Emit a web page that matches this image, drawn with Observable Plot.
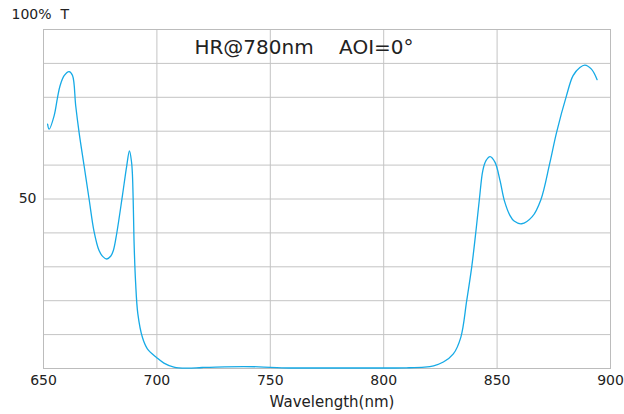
<!DOCTYPE html>
<html>
<head>
<meta charset="utf-8">
<script src="https://cdn.jsdelivr.net/npm/d3@7"></script>
<script src="https://cdn.jsdelivr.net/npm/@observablehq/plot@0.6"></script>
<style>
  html, body { margin: 0; padding: 0; background: #fff; }
</style>
</head>
<body>
<div id="chart"></div>
<script>
// Wavelength (nm) and transmission (%)
const wavelength = [651.8, 652.5, 654.7, 656.2, 657.3, 659.1, 661.3, 662.8, 664.2, 665.7,
  667.9, 670.1, 672.3, 674.5, 676.2, 677.9, 679.6, 680.8, 682.3, 684.8, 686.7, 687.9,
  688.8, 689.2, 689.6, 689.9, 690.6, 691.6, 693.6, 695.8, 699.9, 703.1,
  707.5, 713.4, 720, 730, 745, 755, 770, 790, 810, 818,
  822, 826.3, 830.7, 834.0, 836.6, 838.8, 840.7, 842.2, 843.7, 845.1,
  846.9, 849.1, 851.3, 853.3, 855.7, 857.5, 860.8, 865.5, 869.3, 873.2,
  876.2, 880.6, 883.5, 886.5, 888.7, 891.6, 894.1];
const transmission = [72.1, 70.6, 74.6, 80.0, 83.4, 86.4, 87.6, 86.4, 77.5, 69.6,
  59.8, 50.0, 40.4, 34.8, 33.0, 32.3, 33.1, 34.8, 39.9, 51.0, 59.8, 64.2,
  61.0, 57.4, 48.0, 38.0, 25.5, 16.1, 9.2, 5.8, 3.2, 1.6,
  0.4, 0.1, 0.3, 0.5, 0.5, 0.2, 0.15, 0.15, 0.2, 0.4,
  0.8, 1.9, 4.3, 9.2, 20.0, 29.9, 40.7, 50.0, 58.4, 61.3,
  62.5, 60.8, 55.4, 49.3, 45.1, 43.5, 42.7, 44.8, 49.8, 60.5,
  69.6, 80.5, 86.4, 88.8, 89.5, 88.3, 85.2];

const xTicks = [650, 700, 750, 800, 850, 900];
const xGrid = [700, 750, 800, 850];
const yTicks = [50];
const yGrid = [10, 20, 30, 40, 50, 60, 70, 80, 90];
const titleText = ["HR@780nm\u00a0\u00a0\u00a0 AOI=0°"];
const yUnitText = ["100%\u00a0 T"];
const xLabelText = ["Wavelength(nm)"];

const data = wavelength.map((w, i) => ({w, t: transmission[i]}));

const gridColor = "#c4c4c4";
const textColor = "#222";

const chart = Plot.plot({
  width: 624,
  height: 414,
  marginLeft: 43,
  marginRight: 14,
  marginTop: 29,
  marginBottom: 46,
  style: {fontFamily: "'DejaVu Sans', sans-serif", fontSize: "14px", color: textColor, background: "#fff"},
  x: {domain: [650, 900]},
  y: {domain: [0, 100]},
  marks: [
    Plot.gridY(yGrid, {stroke: gridColor, strokeOpacity: 1, strokeWidth: 1}),
    Plot.gridX(xGrid, {stroke: gridColor, strokeOpacity: 1, strokeWidth: 1}),
    Plot.frame({stroke: "#bcbcbc", strokeWidth: 1}),
    Plot.axisX(xTicks, {tickSize: 0, tickPadding: 7, fontSize: 14, fill: textColor, label: null}),
    Plot.axisY(yTicks, {tickSize: 0, tickPadding: 7, fontSize: 14, fill: textColor, label: null}),
    Plot.line(data, {x: "w", y: "t", stroke: "#16aae6", strokeWidth: 1.3, curve: "catmull-rom"}),
    Plot.text(titleText, {frameAnchor: "top", dx: -23, dy: 18, fontSize: 20, lineAnchor: "middle", fill: textColor}),
    Plot.text(yUnitText, {frameAnchor: "top-left", textAnchor: "start", dx: -32, dy: -15, fontSize: 14, lineAnchor: "middle", fill: textColor}),
    Plot.text(xLabelText, {frameAnchor: "bottom", dx: 5, dy: 34, fontSize: 15, lineAnchor: "middle", fill: textColor})
  ]
});
document.getElementById("chart").appendChild(chart);
</script>
</body>
</html>
